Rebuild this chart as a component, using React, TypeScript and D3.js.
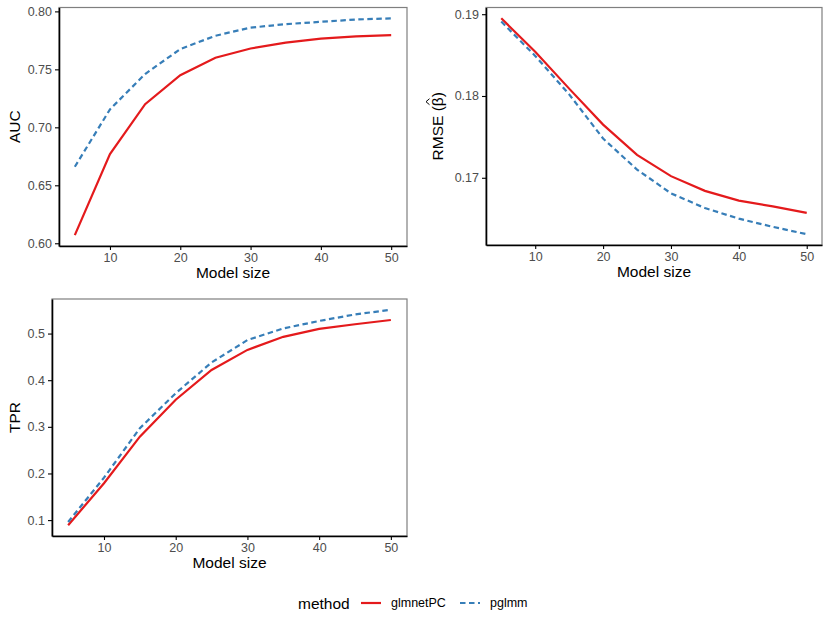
import { useEffect, useRef } from "react";
import * as d3 from "d3";

// values
const modelSize = [5, 10, 15, 20, 25, 30, 35, 40, 45, 50];
const aucGlmnetPC = [0.607, 0.677, 0.72, 0.745, 0.76, 0.768, 0.773, 0.7765, 0.7785, 0.7795];
const aucPglmm = [0.666, 0.7155, 0.746, 0.7675, 0.779, 0.786, 0.789, 0.791, 0.793, 0.794];
const rmseGlmnetPC = [0.1895, 0.1854, 0.1809, 0.1765, 0.1728, 0.1702, 0.1684, 0.1672, 0.1665, 0.1657];
const rmsePglmm = [0.1891, 0.1849, 0.1802, 0.1748, 0.171, 0.1681, 0.1663, 0.165, 0.164, 0.1631];
const tprGlmnetPC = [0.089, 0.179, 0.279, 0.358, 0.422, 0.465, 0.493, 0.51, 0.52, 0.529];
const tprPglmm = [0.096, 0.191, 0.297, 0.372, 0.438, 0.486, 0.511, 0.527, 0.541, 0.551];

const xTicks = [10, 20, 30, 40, 50];
const aucTicks = [0.6, 0.65, 0.7, 0.75, 0.8];
const rmseTicks = [0.17, 0.18, 0.19];
const tprTicks = [0.1, 0.2, 0.3, 0.4, 0.5];

const methods = ["glmnetPC", "pglmm"];
const colors = ["#E41A1C", "#377EB8"];
const dashes = ["none", "5.5,3.5"];

const FONT = "'Liberation Sans', Arial, Helvetica, sans-serif";

const App = () => {
  const ref = useRef<HTMLDivElement | null>(null);

  function chartRender(svg: any) {
    const width = 830;
    const height = 623;
    svg.attr("width", width).attr("height", height).style("font-family", FONT);

    const panels = [
      { title: "AUC", hat: -1, series: [aucGlmnetPC, aucPglmm], ticks: aucTicks, fmt: ".2f", x0: 59, x1: 407, y0: 7.5, y1: 246, titleX: 20 },
      { title: "RMSE (β)", hat: 6, series: [rmseGlmnetPC, rmsePglmm], ticks: rmseTicks, fmt: ".2f", x0: 486, x1: 822, y0: 7.5, y1: 245, titleX: 443 },
      { title: "TPR", hat: -1, series: [tprGlmnetPC, tprPglmm], ticks: tprTicks, fmt: ".1f", x0: 52, x1: 407, y0: 299, y1: 536, titleX: 20 },
    ];

    panels.forEach((p) => {
      const g = svg.append("g");
      const xmin = d3.min(modelSize) as number;
      const xmax = d3.max(modelSize) as number;
      const xpad = (xmax - xmin) * 0.05;
      const xscale = d3.scaleLinear().domain([xmin - xpad, xmax + xpad]).range([p.x0, p.x1]);
      const all = p.series.flat();
      const ymin = d3.min(all) as number;
      const ymax = d3.max(all) as number;
      const ypad = (ymax - ymin) * 0.05;
      const yscale = d3.scaleLinear().domain([ymin - ypad, ymax + ypad]).range([p.y1, p.y0]);

      // panel border (grey) then axis lines (black)
      g.append("rect")
        .attr("x", p.x0)
        .attr("y", p.y0)
        .attr("width", p.x1 - p.x0)
        .attr("height", p.y1 - p.y0)
        .attr("fill", "none")
        .attr("stroke", "#7F7F7F")
        .attr("stroke-width", 1.2);

      const line = d3
        .line<number>()
        .x((_, i) => xscale(modelSize[i]))
        .y((d) => yscale(d));

      p.series.forEach((s, k) => {
        g.append("path")
          .attr("d", line(s))
          .attr("fill", "none")
          .attr("stroke", colors[k])
          .attr("stroke-width", 2.2)
          .attr("stroke-dasharray", dashes[k]);
      });

      const xAxis = d3
        .axisBottom(xscale)
        .tickValues(xTicks)
        .tickSizeInner(4)
        .tickSizeOuter(0)
        .tickPadding(3)
        .tickFormat(d3.format("d"));
      const ax = g.append("g").attr("transform", `translate(0, ${p.y1})`).call(xAxis);
      ax.select(".domain").attr("stroke", "#000").attr("stroke-width", 1.6);
      ax.selectAll(".tick line").attr("stroke", "#000").attr("stroke-width", 1.1);
      ax.selectAll(".tick text").attr("fill", "#4D4D4D").style("font-size", "12.5px").style("font-family", FONT);

      const yAxis = d3
        .axisLeft(yscale)
        .tickValues(p.ticks)
        .tickSizeInner(4)
        .tickSizeOuter(0)
        .tickPadding(3)
        .tickFormat(d3.format(p.fmt));
      const ay = g.append("g").attr("transform", `translate(${p.x0}, 0)`).call(yAxis);
      ay.select(".domain").attr("stroke", "#000").attr("stroke-width", 1.6);
      ay.selectAll(".tick line").attr("stroke", "#000").attr("stroke-width", 1.1);
      ay.selectAll(".tick text").attr("fill", "#4D4D4D").style("font-size", "12.5px").style("font-family", FONT);

      g.append("text")
        .attr("x", (p.x0 + p.x1) / 2)
        .attr("y", p.y1 + 32)
        .attr("text-anchor", "middle")
        .style("font-size", "15.5px")
        .text("Model size");

      const yt = g
        .append("g")
        .attr("transform", `translate(${p.titleX}, ${(p.y0 + p.y1) / 2}) rotate(-90)`);
      const tt = yt
        .append("text")
        .attr("x", 0)
        .attr("y", 0)
        .attr("text-anchor", "middle")
        .style("font-size", "15.5px")
        .text(p.title);

      if (p.hat >= 0) {
        const node = tt.node() as SVGTextElement;
        const ext = node.getExtentOfChar(p.hat);
        const cx = ext.x + ext.width / 2;
        const top = -12.5;
        yt.append("path")
          .attr("d", `M${cx - 3},${top - 1} L${cx},${top - 4.5} L${cx + 3},${top - 1}`)
          .attr("fill", "none")
          .attr("stroke", "#000")
          .attr("stroke-width", 1);
      }
    });

    // legend
    const lg = svg.append("g");
    const ly = 603;
    lg.append("text").attr("x", 298).attr("y", ly).attr("dominant-baseline", "central").style("font-size", "15.5px").text("method");
    const keyX = [361, 460];
    methods.forEach((m, k) => {
      lg.append("line")
        .attr("x1", keyX[k])
        .attr("x2", keyX[k] + 20)
        .attr("y1", ly)
        .attr("y2", ly)
        .attr("stroke", colors[k])
        .attr("stroke-width", 2.2)
        .attr("stroke-dasharray", dashes[k]);
      lg.append("text")
        .attr("x", keyX[k] + 30)
        .attr("y", ly)
        .attr("dominant-baseline", "central")
        .style("font-size", "12.5px")
        .text(m);
    });
  }

  useEffect(() => {
    if (ref.current) {
      const svg = d3.select(ref.current).append("svg").style("position", "absolute").style("left", "0px").style("top", "0px");
      chartRender(svg);
      return () => {
        svg.remove();
      };
    }
  }, []);

  return <div ref={ref}></div>;
};

export default App;
